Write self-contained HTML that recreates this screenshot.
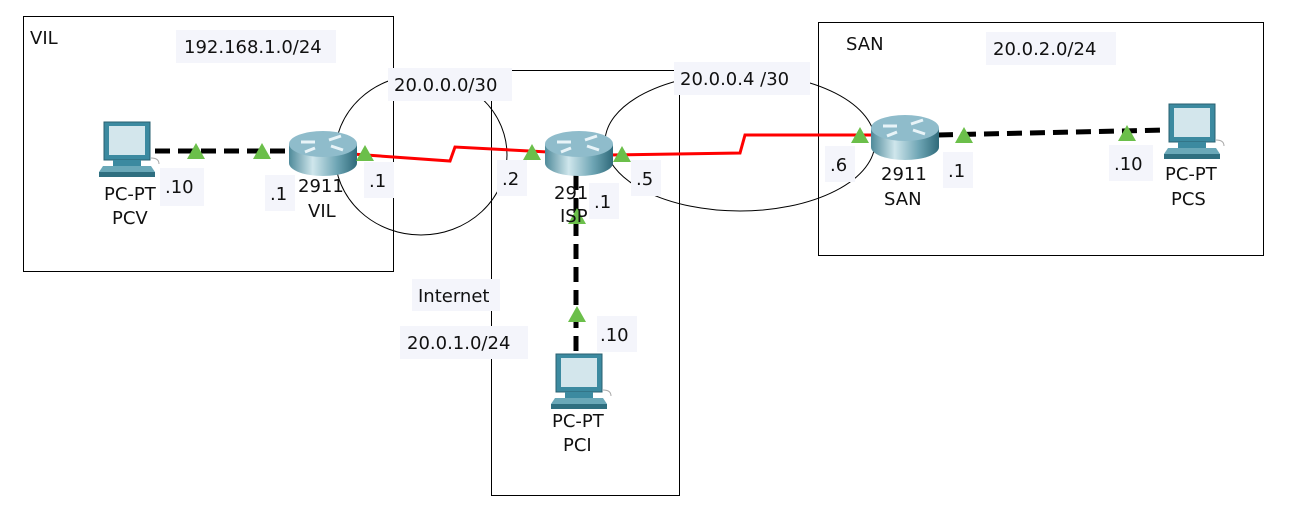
<!DOCTYPE html>
<html><head><meta charset="utf-8"><style>
html,body{margin:0;padding:0;background:#fff}
svg{display:block}
text{font-family:"DejaVu Sans","Liberation Sans",sans-serif;font-size:18px;fill:#111}
.lb{fill:#f4f5fb}
</style></head><body>
<svg width="1290" height="510" viewBox="0 0 1290 510" xmlns="http://www.w3.org/2000/svg">
<defs>
<linearGradient id="rg" x1="0" x2="1" y1="0" y2="0">
<stop offset="0" stop-color="#4f8a9a"/><stop offset="0.35" stop-color="#cfe6ec"/><stop offset="0.7" stop-color="#6fa6b5"/><stop offset="1" stop-color="#2f6a7a"/>
</linearGradient>
<g id="router">
<path d="M0,13 L0,32 A34,13 0 0 0 68,32 L68,13 Z" fill="url(#rg)"/>
<ellipse cx="34" cy="13" rx="34" ry="13" fill="#8fbccb"/>
<path d="M12,11 L26,11 M40,9 L52,5 M26,17 L16,21 M42,15 L54,19" stroke="#e8f4f8" stroke-width="3"/>
</g>
<g id="pc">
<rect x="7" y="0" width="46" height="38" fill="#3c8aa0" stroke="#2a6070"/>
<rect x="12" y="4" width="36" height="29" fill="#d3e6ec"/>
<rect x="16" y="38" width="28" height="6" fill="#3c8aa0"/>
<path d="M2,50 L58,50 L54,44 L6,44 Z" fill="#6aa8b8"/>
<rect x="2" y="50" width="56" height="5" fill="#2f6f80"/>
<path d="M54,36 q8,0 8,6" stroke="#aaa" fill="none"/>
</g>
<path id="tri" d="M-9,8 L9,8 L0,-8 Z" fill="#6bbf4a"/>
</defs>

<rect x="23.5" y="16.5" width="370" height="255" fill="none" stroke="#000"/>
<rect x="818.5" y="22.5" width="445" height="233" fill="none" stroke="#000"/>
<rect x="491.5" y="70.5" width="188" height="425" fill="none" stroke="#000"/>
<ellipse cx="421" cy="155" rx="86" ry="80" fill="none" stroke="#000"/>
<ellipse cx="740" cy="142" rx="135" ry="69" fill="none" stroke="#000"/>

<line x1="155" y1="151" x2="292" y2="151" stroke="#000" stroke-width="5" stroke-dasharray="15,8"/>
<line x1="938" y1="135" x2="1165" y2="130" stroke="#000" stroke-width="5" stroke-dasharray="15,8"/>
<line x1="576" y1="175" x2="576" y2="358" stroke="#000" stroke-width="5" stroke-dasharray="15,8"/>
<polyline points="352,154 450,161 455,147 548,152" fill="none" stroke="#f00" stroke-width="3"/>
<polyline points="608,155 740,153 745,135 872,135" fill="none" stroke="#f00" stroke-width="3"/>

<use href="#router" x="289" y="131"/>
<use href="#router" x="545" y="131"/>
<use href="#router" x="871" y="115"/>
<use href="#pc" x="97" y="122"/>
<use href="#pc" x="1162" y="104"/>
<use href="#pc" x="549" y="354"/>

<use href="#tri" x="196" y="151"/>
<use href="#tri" x="262" y="151"/>
<use href="#tri" x="365" y="153"/>
<use href="#tri" x="532" y="152"/>
<use href="#tri" x="622" y="154"/>
<use href="#tri" x="860" y="135"/>
<use href="#tri" x="964" y="135"/>
<use href="#tri" x="1127" y="133"/>
<use href="#tri" x="577" y="216"/>
<use href="#tri" x="577" y="314"/>

<rect class="lb" x="176" y="30" width="160" height="33"/><text x="184" y="53">192.168.1.0/24</text>
<rect class="lb" x="388" y="68" width="124" height="33"/><text x="394" y="91">20.0.0.0/30</text>
<rect class="lb" x="674" y="62" width="136" height="33"/><text x="680" y="85">20.0.0.4 /30</text>
<rect class="lb" x="986" y="32" width="130" height="33"/><text x="993" y="55">20.0.2.0/24</text>
<text x="30" y="44">VIL</text>
<text x="846" y="50">SAN</text>
<rect class="lb" x="412" y="279" width="88" height="32"/><text x="418" y="302">Internet</text>
<rect class="lb" x="400" y="326" width="128" height="33"/><text x="407" y="349">20.0.1.0/24</text>

<rect class="lb" x="160" y="168" width="44" height="38"/><text x="165" y="193">.10</text>
<rect class="lb" x="265" y="175" width="30" height="36"/><text x="270" y="200">.1</text>
<rect class="lb" x="364" y="162" width="30" height="36"/><text x="369" y="187">.1</text>
<rect class="lb" x="497" y="160" width="30" height="36"/><text x="502" y="185">.2</text>
<rect class="lb" x="631" y="160" width="30" height="36"/><text x="636" y="185">.5</text>
<rect class="lb" x="589" y="183" width="30" height="36"/><text x="594" y="208">.1</text>
<rect class="lb" x="825" y="146" width="30" height="36"/><text x="830" y="171">.6</text>
<rect class="lb" x="943" y="152" width="30" height="36"/><text x="948" y="177">.1</text>
<rect class="lb" x="1109" y="145" width="44" height="36"/><text x="1114" y="170">.10</text>
<rect class="lb" x="597" y="316" width="40" height="36"/><text x="600" y="341">.10</text>

<text x="104" y="200">PC-PT</text><text x="112" y="224">PCV</text>
<text x="298" y="192">2911</text><text x="308" y="217">VIL</text>
<text x="554" y="199">291</text><text x="560" y="222">ISP</text>
<text x="881" y="180">2911</text><text x="884" y="205">SAN</text>
<text x="1165" y="180">PC-PT</text><text x="1171" y="205">PCS</text>
<text x="552" y="427">PC-PT</text><text x="563" y="451">PCI</text>
</svg>
</body></html>
